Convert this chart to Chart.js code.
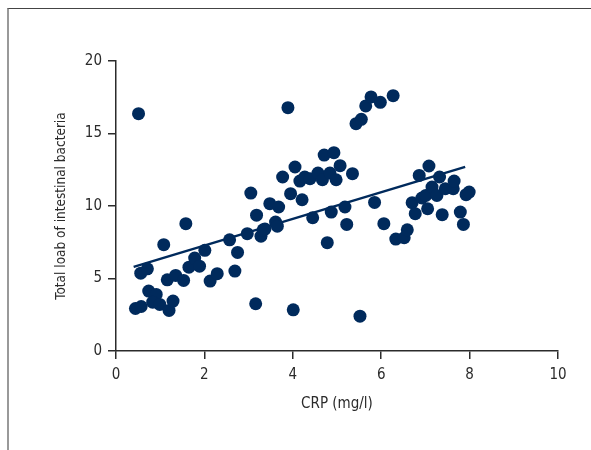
<!DOCTYPE html>
<html>
<head>
<meta charset="utf-8">
<script src="https://cdn.jsdelivr.net/npm/chart.js@4.4.1/dist/chart.umd.min.js"></script>
<style>
  html, body { margin: 0; padding: 0; background: #fff; }
  #wrap { position: relative; width: 591px; height: 450px; }
  #frame { position: absolute; left: 7px; top: 8px; right: 0; bottom: 0;
           border-top: 1px solid #444; border-left: 2px solid #999; pointer-events: none; }
  canvas { position: absolute; left: 0; top: 0; }
</style>
</head>
<body>
<div id="wrap">
  <canvas id="grafica" width="591" height="450"></canvas>
  <div id="frame"></div>
</div>
<script>
// CRP (mg/l) vs total load of intestinal bacteria
const crp = [
  0.51, 3.89, 1.58, 1.08, 0.56, 0.71, 0.44, 0.57, 0.74, 0.91,
  0.83, 0.99, 1.20, 1.29, 1.16, 1.35, 1.53, 1.65, 1.78, 1.89,
  2.01, 2.13, 2.29, 2.57, 2.69, 2.75, 2.97, 3.05, 3.18, 3.16,
  3.28, 3.33, 3.37, 3.48, 3.68, 3.61, 3.65, 3.77, 3.95, 4.05,
  4.01, 4.16, 4.21, 4.27, 4.39, 4.45, 4.57, 4.67, 4.71, 4.93,
  4.84, 4.98, 5.07, 4.78, 4.87, 5.18, 5.22, 5.35, 5.43, 5.55,
  5.65, 5.77, 5.98, 6.27, 5.52, 5.85, 6.06, 6.33, 6.52, 6.59,
  6.70, 6.77, 6.86, 6.92, 7.01, 7.05, 7.08, 7.15, 7.26, 7.32,
  7.38, 7.45, 7.63, 7.65, 7.79, 7.86, 7.92, 7.99
];
const bacterias = [
  16.37, 16.78, 8.78, 7.33, 5.37, 5.67, 2.93, 3.07, 4.13, 3.90,
  3.37, 3.21, 2.80, 3.44, 4.91, 5.21, 4.87, 5.78, 6.41, 5.85,
  6.94, 4.82, 5.33, 7.67, 5.51, 6.80, 8.09, 10.89, 9.37, 3.26,
  7.92, 8.36, 8.41, 10.16, 9.93, 8.89, 8.61, 12.00, 10.85, 12.69,
  2.84, 11.72, 10.43, 12.00, 11.88, 9.19, 12.27, 11.81, 13.51, 13.68,
  12.27, 11.81, 12.78, 7.47, 9.58, 9.93, 8.73, 12.23, 15.68, 15.98,
  16.90, 17.52, 17.15, 17.61, 2.40, 10.25, 8.78, 7.72, 7.81, 8.36,
  10.23, 9.47, 12.11, 10.55, 10.73, 9.81, 12.76, 11.31, 10.73, 12.00,
  9.40, 11.19, 11.19, 11.72, 9.58, 8.73, 10.78, 10.96
];
// regression line end points
const lineaX = [0.4, 7.9];
const lineaY = [5.8, 12.7];

const ticksX = [0, 2, 4, 6, 8, 10];
const ticksY = [0, 5, 10, 15, 20];

const azul = '#002a5c';
const texto = '#2b2b2b';
const familia = '"DejaVu Sans Condensed", "Liberation Sans Narrow", sans-serif';
const fuente = { family: familia, size: 15 };
const fuenteY = { family: familia, size: 13.5 };

const puntos = crp.map((x, i) => ({ x: x, y: bacterias[i] }));
const linea = lineaX.map((x, i) => ({ x: x, y: lineaY[i] }));

const ctx = document.getElementById('grafica').getContext('2d');

new Chart(ctx, {
  type: 'scatter',
  data: {
    datasets: [
      {
        label: 'Pacientes',
        data: puntos,
        backgroundColor: azul,
        borderWidth: 0,
        pointRadius: 6.5,
        pointHoverRadius: 6.5
      },
      {
        label: 'Tendencia',
        data: linea,
        showLine: true,
        borderColor: azul,
        borderWidth: 2.5,
        pointRadius: 0,
        fill: false
      }
    ]
  },
  options: {
    responsive: false,
    animation: false,
    layout: { padding: { top: 61, right: 33, left: 0, bottom: 0 } },
    plugins: {
      legend: { display: false },
      tooltip: { enabled: false }
    },
    scales: {
      x: {
        type: 'linear',
        min: 0,
        max: 10,
        afterFit: function (scale) { scale.height = 99; },
        afterBuildTicks: function (scale) { scale.ticks = ticksX.map(v => ({ value: v })); },
        grid: { drawOnChartArea: false, drawTicks: true, tickLength: 8, color: texto, lineWidth: 1.5 },
        border: { display: true, color: texto, width: 1.5 },
        ticks: { color: texto, font: fuente, padding: 7, maxRotation: 0 },
        title: { display: true, text: 'CRP (mg/l)', color: texto, font: fuente, padding: { top: 0, bottom: 37 } }
      },
      y: {
        type: 'linear',
        min: 0,
        max: 20,
        afterFit: function (scale) { scale.width = 116; },
        afterBuildTicks: function (scale) { scale.ticks = ticksY.map(v => ({ value: v })); },
        grid: { drawOnChartArea: false, drawTicks: true, tickLength: 8, color: texto, lineWidth: 1.5 },
        border: { display: true, color: texto, width: 1.5 },
        ticks: { color: texto, font: fuente, padding: 6 },
        title: { display: true, text: 'Total loab of intestinal bacteria', color: texto, font: fuenteY, padding: { top: 53, bottom: 0 } }
      }
    }
  }
});
</script>
</body>
</html>
